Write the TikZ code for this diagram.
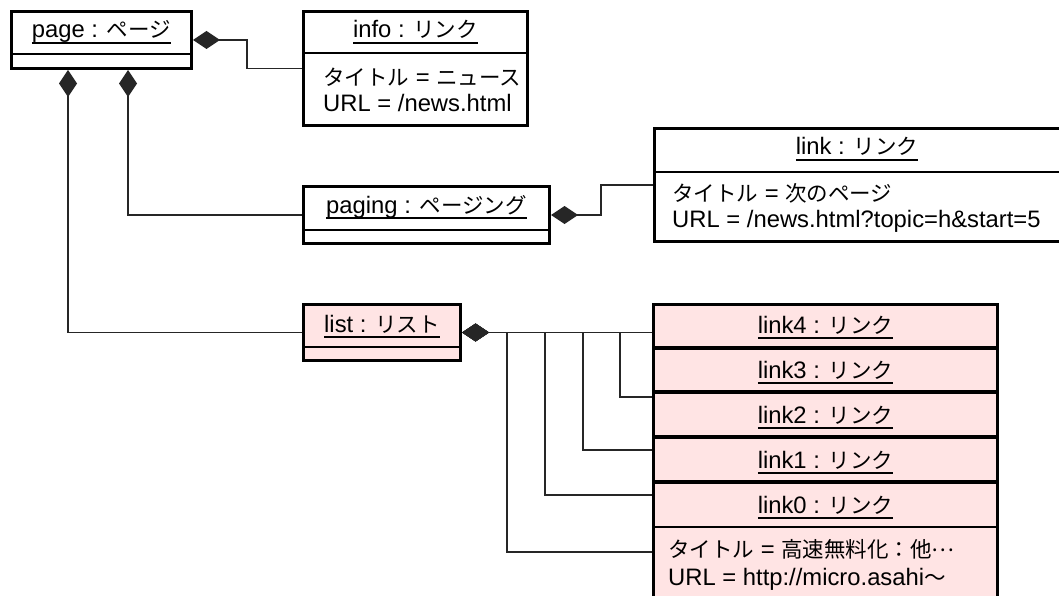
\documentclass[tikz,border=0pt]{standalone}
\usepackage{fontspec}
\setmainfont{Liberation Sans}
\newfontfamily\jp{Noto Sans CJK JP}
\usetikzlibrary{arrows.meta}
\definecolor{pinkfill}{RGB}{255,228,228}
\newcommand\ulx[1]{\setbox0=\hbox{#1}\rlap{\rule[-5.7pt]{\wd0}{1.4pt}}\box0}
\newcommand\J[1]{{\jp\fontsize{21.5pt}{26pt}\selectfont #1}}
\begin{document}
\begin{tikzpicture}[x=1pt,y=-1pt,
  every node/.style={font=\fontsize{23.8pt}{27pt}\selectfont},
  obj/.style={draw=black, line width=3.2pt, anchor=north west, inner sep=0pt, fill=white},
  pinkobj/.style={obj, fill=pinkfill},
  ttl/.style={anchor=base, inner sep=0pt},
  attr/.style={anchor=base west, inner sep=0pt},
  conn/.style={line width=1.6pt, draw=black!85},
  comp/.style={conn, arrows={Diamond[length=27pt,width=18pt,line width=0pt]-}},
  divthin/.style={line width=1.8pt},
  divthick/.style={line width=3.2pt}]
\useasboundingbox (0,0) rectangle (1059,596);
\fill[white] (0,0) rectangle (1059,596);
\clip (0,0) rectangle (1059,596);

% boxes
\node[obj, minimum width=179.8pt, minimum height=56.8pt] (page) at (10,10) {};
\node[obj, minimum width=223.8pt, minimum height=113.8pt] (info) at (302,10) {};
\node[obj, minimum width=245.8pt, minimum height=56.8pt] (paging) at (302,185) {};
\node[obj, minimum width=405.8pt, minimum height=112.8pt] (link) at (653,127) {};
\node[pinkobj, minimum width=156.8pt, minimum height=55.8pt] (list) at (302,303) {};
\node[pinkobj, minimum width=343.8pt, minimum height=299.8pt] (stack) at (652,303) {};

% dividers
\draw[divthin] ([yshift=-44pt]page.north west) -- ([yshift=-44pt]page.north east);
\draw[divthin] ([yshift=-43pt]info.north west) -- ([yshift=-43pt]info.north east);
\draw[divthin] ([yshift=-45pt]paging.north west) -- ([yshift=-45pt]paging.north east);
\draw[divthin] ([yshift=-45pt]link.north west) -- ([yshift=-45pt]link.north east);
\draw[divthin] ([yshift=-44pt]list.north west) -- ([yshift=-44pt]list.north east);
\foreach \d in {45,89,134,179}{
  \draw[divthick] ([yshift=-\d pt]stack.north west) -- ([yshift=-\d pt]stack.north east);
}
\draw[divthin] ([yshift=-224pt]stack.north west) -- ([yshift=-224pt]stack.north east);

% texts
\node[ttl] (pageT) at (101.5,38) {\ulx{page : \J{ページ}}};
\node[ttl] (infoT) at (415.5,38) {\ulx{info : \J{リンク}}};
\node[attr] (infoA1) at (323,86) {\J{タイトル} = \J{ニュース}};
\node[attr] (infoA2) at (323,112) {URL = /news.html};
\node[ttl] (pagingT) at (426.5,213) {\ulx{paging : \J{ページング}}};
\node[ttl] (linkT) at (857,155) {\ulx{link : \J{リンク}}};
\node[attr] (linkA1) at (672,201) {\J{タイトル} = \J{次のページ}};
\node[attr] (linkA2) at (672,227) {URL = /news.html?topic=h\&start=5};
\node[ttl] (listT) at (382,332) {\ulx{list : \J{リスト}}};
\node[ttl] (l4) at (825.5,333) {\ulx{link4 : \J{リンク}}};
\node[ttl] (l3) at (825.5,378) {\ulx{link3 : \J{リンク}}};
\node[ttl] (l2) at (825.5,423) {\ulx{link2 : \J{リンク}}};
\node[ttl] (l1) at (825.5,468) {\ulx{link1 : \J{リンク}}};
\node[ttl] (l0) at (825.5,513) {\ulx{link0 : \J{リンク}}};
\node[attr] (l0A1) at (668,557) {\J{タイトル} = \J{高速無料化：他\raisebox{6pt}{…}}};
\node[attr] (l0A2) at (668,585) {URL = http://micro.asahi\J{〜}};

% connector end points
\coordinate (pb1) at ([xshift=58pt]page.south west);
\coordinate (pb2) at ([xshift=118pt]page.south west);
\coordinate (s3) at (652,397);
\coordinate (s2) at (652,450);
\coordinate (s1) at (652,495);
\coordinate (s0) at (652,552);

% connectors
\draw[comp] (page.east) -- ++(54,0) |- (info.west);
\draw[comp] (pb2) |- (paging.west);
\draw[comp] (pb1) |- (list.west);
\draw[comp] (paging.east) -- ++(50,0) |- (link.west);
\draw[comp] (list.east) -- (list.east -| stack.west);
\draw[comp] (list.east) -- ++(158,0) |- (s3);
\draw[comp] (list.east) -- ++(121,0) |- (s2);
\draw[comp] (list.east) -- ++(83,0) |- (s1);
\draw[comp] (list.east) -- ++(45,0) |- (s0);
\end{tikzpicture}
\end{document}
